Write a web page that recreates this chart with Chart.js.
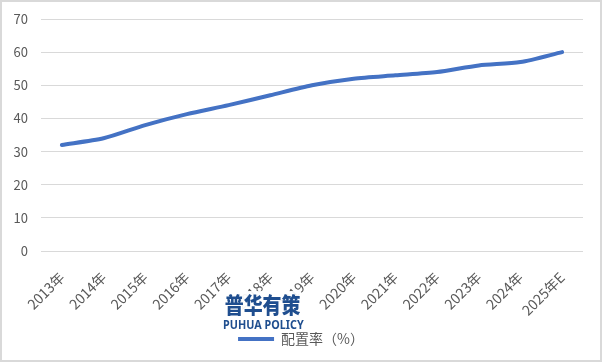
<!DOCTYPE html>
<html>
<head>
<meta charset="utf-8">
<script src="https://cdn.jsdelivr.net/npm/chart.js@4.4.1/dist/chart.umd.min.js"></script>
<style>
  html, body { margin: 0; padding: 0; background: #fff; }
  #wrap {
    position: relative; width: 602px; height: 362px;
    box-sizing: border-box; border: 2px solid #d9d9d9; background: #fff;
  }
  #chart { position: absolute; left: 0; top: 0; }
  #mark {
    position: absolute; left: 217px; top: 289px; width: 82px; height: 40px;
    background: rgba(255,255,255,0.92); color: #1f4e8f;
    text-align: center; padding-top: 1px; line-height: 1; white-space: nowrap;
  }
  #mark .cn {
    font-family: 'Noto Sans CJK SC', sans-serif;
    font-size: 22px; font-weight: 900; transform: scaleX(0.86);
  }
  #mark .en {
    font-family: 'Noto Sans', sans-serif;
    font-size: 12px; font-weight: 700; margin-top: 5px; transform: scaleX(0.9);
  }
</style>
</head>
<body>
<div id="wrap">
  <canvas id="chart" width="598" height="358"></canvas>
  <div id="mark"><div class="cn">普华有策</div><div class="en">PUHUA POLICY</div></div>
</div>
<script>
  // -- data --
  var years = ['2013年', '2014年', '2015年', '2016年', '2017年', '2018年', '2019年',
               '2020年', '2021年', '2022年', '2023年', '2024年', '2025年E'];
  var allocRate = [32, 34, 38, 41.3, 44, 47, 50, 52, 53, 54, 56, 57, 60];
  var seriesName = '配置率（%）';

  Chart.defaults.font.family = "'Noto Sans CJK SC', 'Noto Sans', sans-serif";
  Chart.defaults.font.size = 13;
  Chart.defaults.color = '#595959';

  var GRID = '#d9d9d9';

  new Chart(document.getElementById('chart'), {
    type: 'line',
    data: {
      labels: years,
      datasets: [{
        label: seriesName,
        data: allocRate,
        yAxisID: 'y',
        borderColor: '#4472C4',
        backgroundColor: '#4472C4',
        borderWidth: 4,
        pointRadius: 0,
        tension: 0.25,
        borderCapStyle: 'round'
      }]
    },
    options: {
      responsive: false,
      animation: false,
      layout: { padding: { left: 0, right: 0, top: 17, bottom: 4 } },
      plugins: {
        tooltip: { enabled: false },
        legend: {
          position: 'bottom',
          labels: {
            usePointStyle: true,
            pointStyle: 'line',
            pointStyleWidth: 36,
            boxWidth: 36,
            padding: 6,
            font: { size: 14 }
          }
        }
      },
      scales: {
        x: {
          offset: true,
          grid: { display: false },
          border: { display: false },
          ticks: { minRotation: 45, maxRotation: 45, padding: 10, autoSkip: false, font: { size: 14 } },
          afterFit: function (s) { s.height = 75; }
        },
        y: {
          min: 0, max: 70,
          grid: { color: GRID, lineWidth: 1, drawTicks: false },
          border: { display: false },
          ticks: { stepSize: 10, padding: 13 },
          afterFit: function (s) {
            s.width = 39;
            s.paddingTop = 0;
            s.paddingBottom = 0;
          }
        },
        // empty right-hand spacer so the plot ends where the reference does
        yRight: {
          position: 'right',
          grid: { display: false },
          border: { display: false },
          ticks: { display: false },
          afterFit: function (s) {
            s.width = 17;
            s.paddingTop = 0;
            s.paddingBottom = 0;
          }
        }
      }
    }
  });
</script>
</body>
</html>
